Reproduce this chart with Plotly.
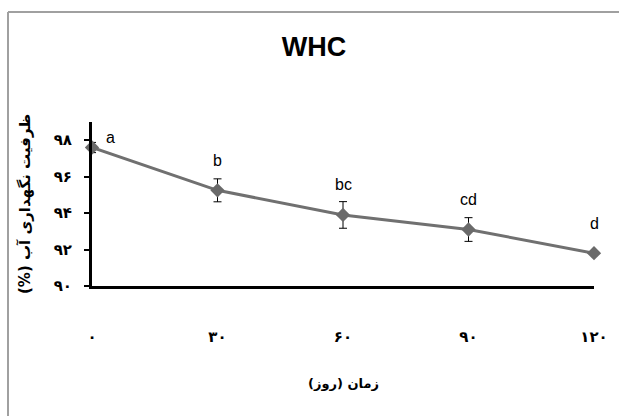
import plotly.graph_objects as go

# Data
days = [0, 30, 60, 90, 120]
whc = [97.6, 95.25, 93.9, 93.1, 91.8]
err = [0.28, 0.63, 0.73, 0.65, 0.0]
letters = ["a", "b", "bc", "cd", "d"]
x_tick_labels = ["۰", "۳۰", "۶۰", "۹۰", "۱۲۰"]
y_tick_vals = [90, 92, 94, 96, 98]
y_tick_labels = ["۹۰", "۹۲", "۹۴", "۹۶", "۹۸"]

title_text = "WHC"
x_title = "زمان (روز)"
y_title = "ظرفیت نگهداری آب (%)"

RLM = "\u200f"

fig = go.Figure()
fig.add_trace(go.Scatter(
    x=days, y=whc, mode="lines+markers",
    line=dict(color="#707070", width=3),
    marker=dict(symbol="diamond", size=11, color="#6a6a6a"),
    error_y=dict(type="data", array=err, visible=True, color="black",
                 thickness=1, width=4),
    cliponaxis=False, showlegend=False,
))

annotations = []
for i, (xv, yv, lab) in enumerate(zip(days, whc, letters)):
    if i == 0:
        annotations.append(dict(x=xv, y=yv, text=lab, showarrow=False,
                                xshift=18, yshift=10,
                                font=dict(family="Liberation Sans, Arial", size=16, color="black")))
    else:
        annotations.append(dict(x=xv, y=yv, text=lab, showarrow=False,
                                yshift=30,
                                font=dict(family="Liberation Sans, Arial", size=16, color="black")))

annotations.append(dict(xref="paper", yref="paper", x=(25 - 92) / 502, y=0.5,
                        text="<b>" + RLM + y_title + RLM + "</b>", textangle=-90, showarrow=False,
                        xanchor="center", yanchor="middle",
                        font=dict(family="DejaVu Sans", size=15, color="black")))
annotations.append(dict(xref="paper", yref="paper", x=0.5, y=(286 - 383) / 164,
                        text="<b>" + RLM + x_title + RLM + "</b>", showarrow=False,
                        xanchor="center", yanchor="middle",
                        font=dict(family="DejaVu Sans", size=13, color="black")))

fig.update_layout(
    width=619, height=416,
    margin=dict(l=92, r=25, t=122, b=130),
    paper_bgcolor="white", plot_bgcolor="white",
    title=dict(text="<b>" + title_text + "</b>", x=(314 - 92) / 502, xref="paper",
               xanchor="center", y=1 - 47 / 416, yanchor="middle",
               font=dict(family="Liberation Sans, Arial", size=27, color="black")),
    xaxis=dict(range=[0, 120], tickvals=days,
               ticktext=["<b>" + t + "</b>" for t in x_tick_labels],
               showgrid=False, zeroline=False, showline=True, linecolor="black",
               linewidth=3, ticks="", ticklabelstandoff=35,
               tickfont=dict(family="DejaVu Sans", size=15, color="black")),
    yaxis=dict(range=[90, 99], tickvals=y_tick_vals,
               ticktext=["<b>" + t + "</b>" for t in y_tick_labels],
               showgrid=False, zeroline=False, showline=True, linecolor="black",
               linewidth=3, ticks="outside", ticklen=5, tickwidth=2, tickcolor="black",
               ticklabelstandoff=9,
               tickfont=dict(family="DejaVu Sans", size=15, color="black")),
    annotations=annotations,
    shapes=[
        dict(type="line", xref="paper", yref="paper",
             x0=(8 - 92) / 502, x1=(8 - 92) / 502,
             y0=(286 - 430) / 164, y1=(286 - 12) / 164,
             line=dict(color="#a0a0a0", width=2), layer="below"),
        dict(type="line", xref="paper", yref="paper",
             x0=(8 - 92) / 502, x1=(640 - 92) / 502,
             y0=(286 - 12) / 164, y1=(286 - 12) / 164,
             line=dict(color="#a0a0a0", width=2), layer="below"),
    ],
)

fig.write_html("out.html")
